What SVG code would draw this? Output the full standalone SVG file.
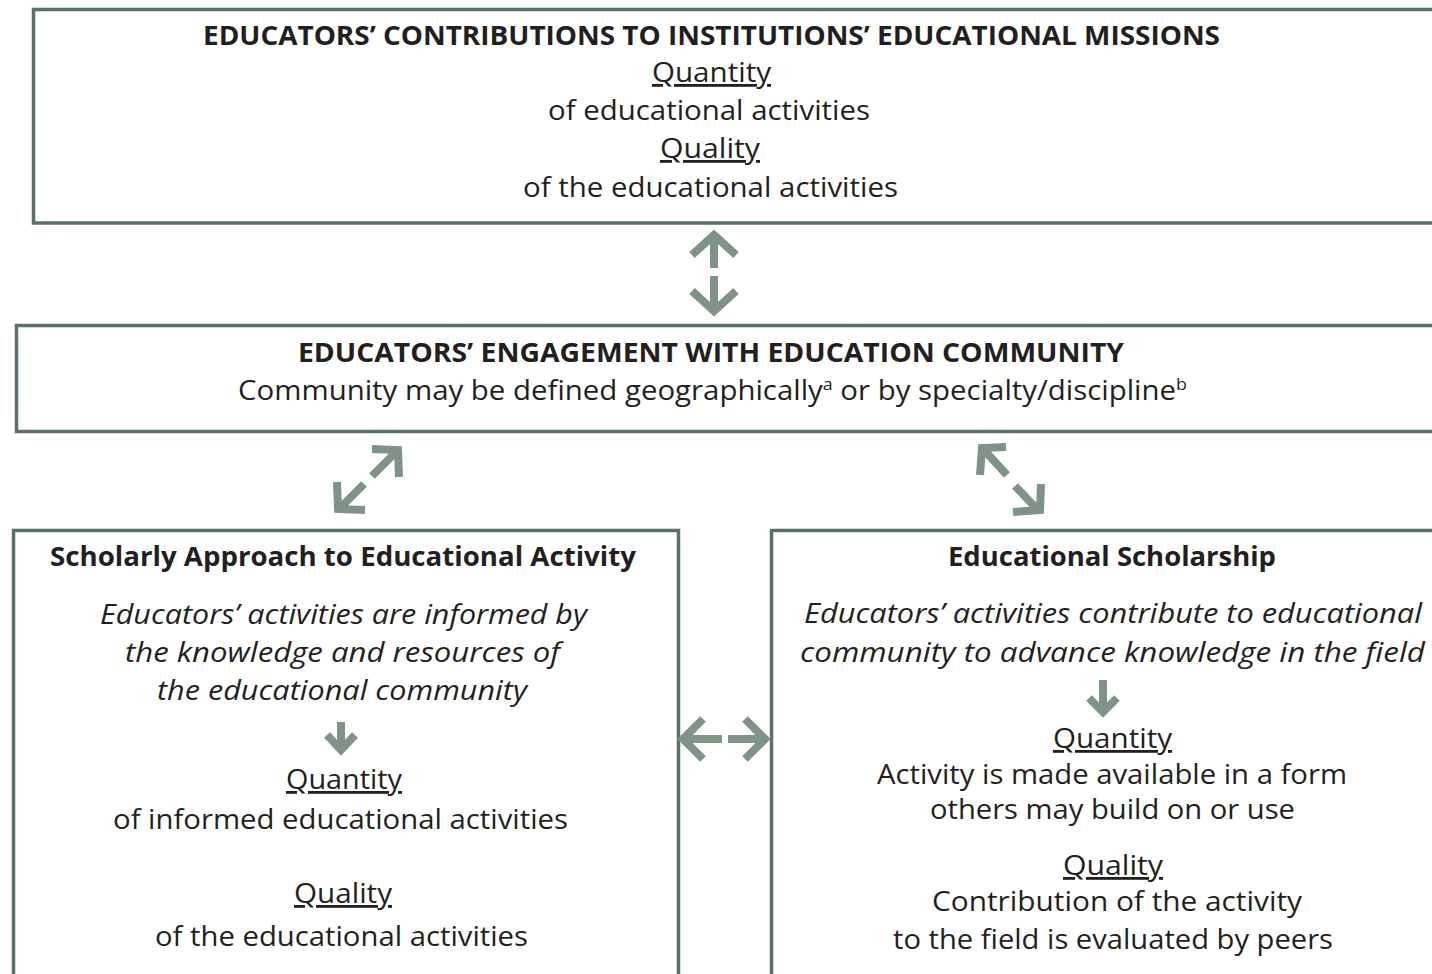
<svg xmlns="http://www.w3.org/2000/svg" width="1432" height="974" viewBox="0 0 1432 974">
<style>
.box{fill:#fff;stroke:#5a7263;stroke-width:3.5}
.t{font-family:"Open Sans","Liberation Sans",sans-serif;fill:#231f20;font-size:28px}
.b{font-weight:bold;font-size:26px}
.i{font-style:italic}
.u{text-decoration:underline}
.ar{fill:none;stroke:#7f9486;stroke-width:8;stroke-linecap:butt;stroke-linejoin:miter}
</style>
<rect width="1432" height="974" fill="#fff"/>
<g id="node-missions">
<rect class="box" x="33.5" y="9.5" width="1420" height="213.5"/>
<text class="t b" x="203" y="45" textLength="1017" lengthAdjust="spacingAndGlyphs">EDUCATORS’ CONTRIBUTIONS TO INSTITUTIONS’ EDUCATIONAL MISSIONS</text>
<text class="t u" x="652" y="82" textLength="119" lengthAdjust="spacingAndGlyphs">Quantity</text>
<text class="t" x="548" y="120" textLength="322" lengthAdjust="spacingAndGlyphs">of educational activities</text>
<text class="t u" x="660" y="158" textLength="100" lengthAdjust="spacingAndGlyphs">Quality</text>
<text class="t" x="523" y="197" textLength="375" lengthAdjust="spacingAndGlyphs">of the educational activities</text>
</g>
<g id="node-community">
<rect class="box" x="16.5" y="325.5" width="1440" height="106"/>
<text class="t b" x="298" y="362" textLength="826" lengthAdjust="spacingAndGlyphs">EDUCATORS’ ENGAGEMENT WITH EDUCATION COMMUNITY</text>
<text class="t" x="238" y="400" textLength="949" lengthAdjust="spacingAndGlyphs">Community may be defined geographically<tspan font-size="17" dy="-10">a</tspan><tspan dy="10"> or by specialty/discipline</tspan><tspan font-size="17" dy="-10">b</tspan></text>
</g>
<g id="node-approach">
<rect class="box" x="13.5" y="530.5" width="665" height="460"/>
<text class="t b" x="50" y="566" textLength="586" lengthAdjust="spacingAndGlyphs">Scholarly Approach to Educational Activity</text>
<text class="t i" x="100" y="624" textLength="487" lengthAdjust="spacingAndGlyphs">Educators’ activities are informed by</text>
<text class="t i" x="125" y="662" textLength="435" lengthAdjust="spacingAndGlyphs">the knowledge and resources of</text>
<text class="t i" x="157" y="700" textLength="370" lengthAdjust="spacingAndGlyphs">the educational community</text>
<text class="t u" x="286" y="789" textLength="116" lengthAdjust="spacingAndGlyphs">Quantity</text>
<text class="t" x="113" y="829" textLength="455" lengthAdjust="spacingAndGlyphs">of informed educational activities</text>
<text class="t u" x="294" y="903" textLength="98" lengthAdjust="spacingAndGlyphs">Quality</text>
<text class="t" x="155" y="946" textLength="373" lengthAdjust="spacingAndGlyphs">of the educational activities</text>
</g>
<g id="node-scholarship">
<rect class="box" x="771.5" y="530.5" width="700" height="460"/>
<text class="t b" x="948" y="566" textLength="328" lengthAdjust="spacingAndGlyphs">Educational Scholarship</text>
<text class="t i" x="804" y="623" textLength="618" lengthAdjust="spacingAndGlyphs">Educators’ activities contribute to educational</text>
<text class="t i" x="800" y="662" textLength="625" lengthAdjust="spacingAndGlyphs">community to advance knowledge in the field</text>
<text class="t u" x="1053" y="748" textLength="119" lengthAdjust="spacingAndGlyphs">Quantity</text>
<text class="t" x="877" y="784" textLength="470" lengthAdjust="spacingAndGlyphs">Activity is made available in a form</text>
<text class="t" x="930" y="819" textLength="365" lengthAdjust="spacingAndGlyphs">others may build on or use</text>
<text class="t u" x="1063" y="875" textLength="100" lengthAdjust="spacingAndGlyphs">Quality</text>
<text class="t" x="932" y="911" textLength="370" lengthAdjust="spacingAndGlyphs">Contribution of the activity</text>
<text class="t" x="893" y="949" textLength="440" lengthAdjust="spacingAndGlyphs">to the field is evaluated by peers</text>
</g>
<g id="connectors">
<path class="ar" d="M714,238 L714,268 M692,255 L714,235 L736,255"/>
<path class="ar" d="M714,276 L714,308 M692,291 L714,311 L736,291"/>
<path class="ar" d="M396,452 L372,476 M372,449 L398,450 L399,477"/>
<path class="ar" d="M340,508 L364,484 M337,482 L338,509 L365,510"/>
<path class="ar" d="M985,451 L1007,475 M1006,447 L982,448 L980,475"/>
<path class="ar" d="M1037,509 L1015,486 M1041,484 L1040,510 L1013,512"/>
<path class="ar" d="M686,739 L722,739 M703,719 L683,739 L703,759"/>
<path class="ar" d="M728,739 L764,739 M745,719 L765,739 L745,759"/>
<path class="ar" d="M341,722 L341,748 M327,735 L341,750 L355,735"/>
<path class="ar" d="M1103,680 L1103,710 M1089,698 L1103,712 L1117,698"/>
</g>
</svg>
